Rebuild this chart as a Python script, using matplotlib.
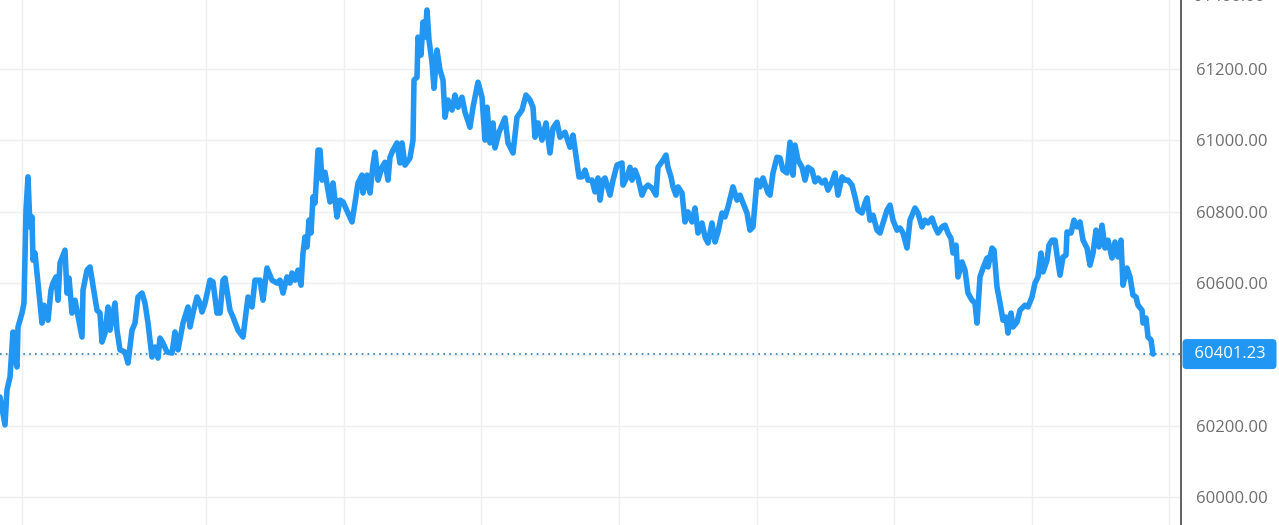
import numpy as np
import matplotlib.pyplot as plt

# time step (minutes from start) and price
minutes = [0, 5, 7, 10, 13, 15, 17, 18, 22, 24, 26, 28, 30, 32, 33, 35, 38, 42, 44, 48,
           51, 53, 56, 58, 60, 65, 67, 69, 72, 75, 82, 83, 87, 90, 97, 100, 102, 105, 108, 110,
           115, 117, 120, 125, 128, 132, 135, 138, 142, 145, 148, 152, 155, 158, 160, 163, 167, 172, 175, 178,
           183, 188, 190, 193, 197, 200,
           202, 205, 210, 213, 217, 220, 223, 225, 230, 233, 238, 243, 248, 252, 255, 260, 263, 267, 272, 277,
           280, 283, 287, 290, 292, 295, 298, 301, 303, 305, 307, 309, 311, 313, 315, 318, 320, 322, 325, 330,
           333, 337, 340, 343, 348, 352, 355, 358, 362, 363, 367, 370, 373, 375, 378, 382, 385, 388, 390,
           393, 397, 400, 402, 405, 410, 413, 414, 417, 418, 421, 423, 425, 427, 429, 432, 434, 437, 440, 443,
           445, 448, 452, 455, 458, 462, 465, 470, 473, 478, 482, 485, 487, 490, 493, 495, 499, 505, 508, 513,
           517, 522, 526, 530, 533, 535, 538, 542, 546, 550, 553, 557, 560, 565, 570, 573, 577, 579,
           582, 585, 588, 592, 595, 598, 600, 603, 605, 610, 613, 617, 622, 623, 627, 630, 632, 635, 638, 642,
           645, 648, 652, 656, 658, 663, 666, 668, 671, 673, 676, 678, 682, 685, 688, 692, 695, 698, 702, 705,
           708, 712, 715, 718, 722, 725, 728, 733, 737, 740, 743, 747, 750, 753, 757, 760, 763, 768,
           770, 773, 777, 780, 783, 787, 790, 793, 795, 798, 802, 805, 808, 812, 815, 818, 822, 825, 828, 832,
           835, 838, 842, 845, 848, 852, 855, 858, 862, 865, 867, 870, 873, 877, 880, 883, 887, 890, 893, 897,
           900, 903, 907, 910, 915, 918, 922, 925, 928, 932, 935, 938, 942, 945, 948, 951,
           953, 956, 958, 962, 965, 968, 972, 975, 977, 980, 983, 987, 988, 992, 994, 997, 1000, 1003, 1006, 1008,
           1011, 1013, 1017, 1020, 1025, 1028, 1032, 1035, 1038, 1041, 1043, 1047, 1049, 1052, 1055, 1057, 1060, 1063, 1066, 1067,
           1071, 1074, 1077, 1080, 1083, 1087, 1090, 1093, 1096, 1099, 1102, 1105, 1108, 1112, 1115, 1118, 1121, 1123, 1127, 1130,
           1133, 1136, 1138, 1142, 1143, 1146, 1148, 1151, 1153]
price = [60281, 60203, 60301, 60337, 60463, 60393, 60365, 60477, 60516, 60544, 60804, 60897, 60757, 60785, 60664, 60684, 60600, 60488, 60538, 60496,
         60580, 60600, 60617, 60552, 60656, 60692, 60572, 60614, 60516, 60552, 60449, 60580, 60636, 60645, 60524, 60516, 60435, 60460, 60533, 60468,
         60544, 60468, 60413, 60407, 60376, 60468, 60488, 60561, 60572, 60544, 60488, 60393, 60421, 60390, 60446, 60432, 60407, 60404, 60463, 60413,
         60488, 60533, 60477, 60516, 60561, 60544,
         60519, 60544, 60608, 60603, 60516, 60516, 60608, 60614, 60524, 60505, 60468, 60449, 60561, 60533, 60608, 60608, 60552, 60642, 60608, 60600,
         60608, 60572, 60617, 60600, 60628, 60608, 60636, 60594, 60684, 60729, 60701, 60776, 60740, 60841, 60824, 60972, 60972, 60888, 60910, 60827,
         60880, 60785, 60832, 60827, 60796, 60771, 60824, 60880, 60902, 60852, 60902, 60852, 60930, 60966, 60888, 60924, 60938, 60888, 60952,
         60972, 60992, 60936, 60992, 60930, 60950, 61000, 61168, 61176, 61288, 61238, 61330, 61288, 61364, 61280, 61218, 61145, 61252, 61196, 61168,
         61064, 61112, 61084, 61126, 61092, 61120, 61078, 61036, 61092, 61162, 61120, 61000, 61092, 60992, 61048, 60978, 61022, 61062, 60992, 60964,
         61064, 61084, 61126, 61112, 61092, 61008, 61048, 61000, 61048, 60964, 61034, 61050, 61008, 61022, 60980, 61014, 60936, 60897,
         60897, 60916, 60888, 60888, 60855, 60894, 60832, 60888, 60894, 60846, 60888, 60930, 60936, 60874, 60897, 60924, 60888, 60916, 60894, 60846,
         60866, 60874, 60866, 60846, 60924, 60944, 60958, 60924, 60897, 60869, 60846, 60869, 60852, 60771, 60799, 60771, 60810, 60740, 60768, 60729,
         60712, 60768, 60715, 60743, 60796, 60785, 60813, 60869, 60832, 60846, 60824, 60796, 60748, 60757, 60888, 60869, 60894, 60852,
         60846, 60908, 60952, 60950, 60916, 60908, 60994, 60902, 60986, 60944, 60924, 60888, 60924, 60916, 60883, 60894, 60880, 60888, 60860, 60883,
         60908, 60846, 60897, 60888, 60888, 60874, 60841, 60804, 60796, 60824, 60838, 60776, 60790, 60748, 60740, 60768, 60804, 60818, 60776, 60748,
         60754, 60740, 60698, 60776, 60810, 60796, 60757, 60776, 60768, 60782, 60757, 60740, 60757, 60762, 60740, 60725,
         60684, 60706, 60617, 60659, 60636, 60572, 60552, 60544, 60488, 60617, 60642, 60670, 60645, 60698, 60692, 60589, 60544, 60496, 60505, 60460,
         60516, 60477, 60491, 60524, 60538, 60533, 60561, 60600, 60617, 60684, 60631, 60664, 60706, 60720, 60720, 60678, 60622, 60673, 60678, 60743,
         60740, 60776, 60757, 60771, 60720, 60698, 60650, 60684, 60748, 60701, 60762, 60698, 60720, 60670, 60715, 60673, 60720, 60594, 60642, 60617,
         60566, 60561, 60538, 60524, 60488, 60502, 60449, 60441, 60401.23]
y_ticks = [60000, 60200, 60400, 60600, 60800, 61000, 61200]
x_grid = [22, 206, 344, 481, 619, 757, 894, 1032, 1169]
last_price = price[-1]

plt.rcParams['font.family'] = ['Open Sans', 'DejaVu Sans']
fig = plt.figure(figsize=(12.79, 5.25), dpi=100)
ax = fig.add_axes([0, 0, 1181 / 1279, 1])

ax.plot(minutes, price, color='#2196f3', lw=4.0, solid_joinstyle='round', solid_capstyle='round', zorder=3)
ax.axhline(last_price, color='#2a7cb5', lw=1.2, ls=(0, (1, 2.5)), zorder=2)

ax.set_xlim(0, 1181)
ax.set_ylim(59923, 61392)
ax.set_xticks(x_grid)
ax.set_xticklabels([])
ax.set_yticks(y_ticks)
ax.yaxis.tick_right()
# 60400 label is hidden under the last price tag
ax.set_yticklabels(['' if v == 60400 else '{:.2f}'.format(v) for v in y_ticks])
ax.tick_params(axis='y', length=0, pad=11, labelsize=12, labelcolor='#6d6d6d')
ax.tick_params(axis='x', length=0)
ax.grid(True, color='#efefef', lw=1)
ax.set_axisbelow(True)
for s in ['top', 'left', 'bottom']:
    ax.spines[s].set_visible(False)
ax.spines['right'].set_color('#555555')
ax.spines['right'].set_linewidth(1.3)

# 61400 label sits half out of the picture
ax.text(1193 / 1181, 61400, '61400.00', transform=ax.get_yaxis_transform(), fontsize=12, color='#6d6d6d',
        va='center', ha='left', clip_on=False)

# last price tag
ax.text(1189.5 / 1181, last_price, ' {:.2f} '.format(last_price), transform=ax.get_yaxis_transform(),
        fontsize=12, color='white', va='center', ha='left', clip_on=False, zorder=5,
        bbox=dict(boxstyle='round,pad=0.42,rounding_size=0.25', fc='#2196f3', ec='none'))

fig.savefig('out.png', dpi=100)
